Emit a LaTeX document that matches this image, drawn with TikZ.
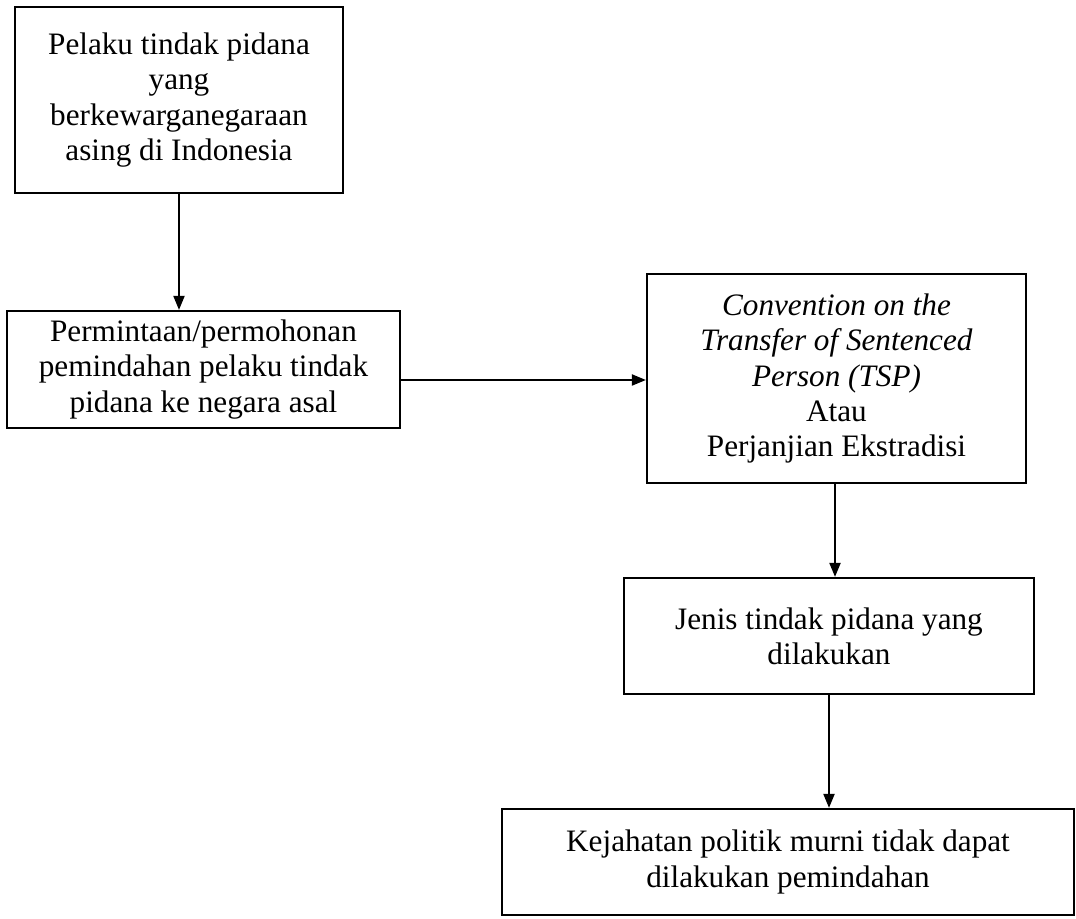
\documentclass[tikz,border=0pt]{standalone}
\usepackage{fontspec}
\setmainfont{Liberation Serif}
\usetikzlibrary{arrows.meta, positioning}
\tikzset{
  flowbox/.style={rectangle, draw=black, line width=1.1pt, align=center, inner sep=0pt},
  flowarr/.style={line width=1pt, -{Triangle[length=7pt, width=5.5pt]}},
}

\begin{document}
\begin{tikzpicture}[x=0.5pt, y=-0.5pt, font=\fontsize{15.6pt}{17.6pt}\selectfont]
\useasboundingbox (0,0) rectangle (1076,919);
\node[flowbox, minimum width=164pt, minimum height=93pt] (a) at (179,100)
  {Pelaku tindak pidana\\yang\\berkewarganegaraan\\asing di Indonesia};
\node[flowbox, minimum width=196.5pt, minimum height=58.5pt] (b) at (203.5,369.5)
  {Permintaan/permohonan\\pemindahan pelaku tindak\\pidana ke negara asal};
\node[flowbox, minimum width=189.5pt, minimum height=104.5pt] (c) at (836.5,378.5)
  {\textit{Convention on the}\\\textit{Transfer of Sentenced}\\\textit{Person (TSP)}\\Atau\\Perjanjian Ekstradisi};
\node[flowbox, minimum width=205pt, minimum height=58pt] (d) at (829,636)
  {Jenis tindak pidana yang\\dilakukan};
\node[flowbox, minimum width=286pt, minimum height=53pt] (e) at (788,862)
  {Kejahatan politik murni tidak dapat\\dilakukan pemindahan};
% connectors
\coordinate (ab) at (179,0); \coordinate (bc) at (0,380);
\coordinate (cd) at (835,0); \coordinate (de) at (829,0);
\draw[flowarr] (a.south -| ab) -- (b.north -| ab);
\draw[flowarr] (b.east |- bc) -- (c.west |- bc);
\draw[flowarr] (c.south -| cd) -- (d.north -| cd);
\draw[flowarr] (d.south -| de) -- (e.north -| de);
\end{tikzpicture}
\end{document}
